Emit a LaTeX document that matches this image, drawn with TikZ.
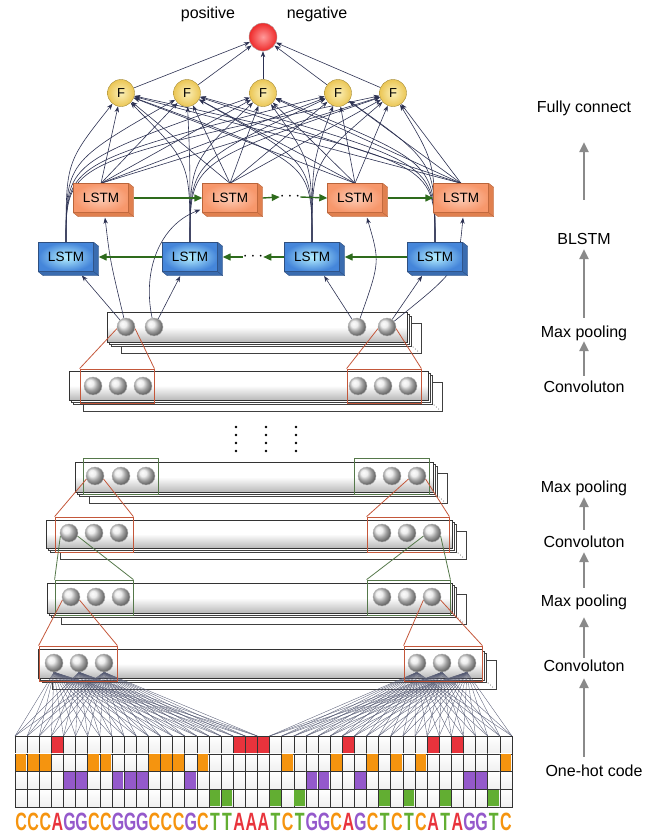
\documentclass[tikz,border=0pt]{standalone}
\usepackage{graphicx}
\usepackage{fontspec}
\setmainfont{Liberation Sans}
\usetikzlibrary{arrows.meta}
\pgfdeclarelayer{bg}
\pgfsetlayers{bg,main}

\definecolor{navy}{HTML}{2C3152}
\definecolor{gridgray}{HTML}{565B74}
\definecolor{rnngreen}{HTML}{2E6B1C}
\definecolor{rfred}{HTML}{C4573A}
\definecolor{rfgreen}{HTML}{55784A}
\definecolor{nucA}{HTML}{E8333C}
\definecolor{nucC}{HTML}{F5940F}
\definecolor{nucG}{HTML}{9459CB}
\definecolor{nucT}{HTML}{62AE32}
\definecolor{fwfill}{HTML}{F7976B}
\definecolor{fwlight}{HTML}{FCCDB8}
\definecolor{fwedge}{HTML}{B9643A}
\definecolor{fwside}{HTML}{E0804F}
\definecolor{bwfill}{HTML}{4586DA}
\definecolor{bwlight}{HTML}{B5F0FF}
\definecolor{bwedge}{HTML}{2E4F80}
\definecolor{bwside}{HTML}{3A6CB0}
\definecolor{fyellow}{HTML}{EBC655}
\definecolor{flight}{HTML}{FBF0B8}
\definecolor{fedge}{HTML}{A38A35}
\definecolor{outred}{HTML}{EE2A2A}
\definecolor{outlight}{HTML}{FF9A9A}
\definecolor{labgray}{HTML}{8A8A8A}

% one stack of feature maps: x, y, width, height of the front bar
\newcommand\fmap[4]{%
  \filldraw[fmback] (#1+14,#2+11) rectangle ++(#3,#4);
  \foreach \k in {1,2,3} \fill[black!70] (#1+#3+4+\k*2.2,#2+#4+3+\k*2) circle (0.5);
  \filldraw[fmback] (#1+4,#2+4) rectangle ++(#3,#4);
  \filldraw[fmback] (#1+2,#2+2) rectangle ++(#3,#4);
  \shadedraw[fmfront] (#1,#2) rectangle ++(#3,#4);
}

\def\rowA{736}
\def\rowC{753.75}
\def\rowG{771.5}
\def\rowT{789.25}

\begin{document}
\begin{tikzpicture}[x=1pt,y=-1pt,
  lab/.style={font=\fontsize{16}{18}\selectfont, text height=12pt, text depth=4pt, inner sep=0pt},
  upar/.style={draw=labgray, line width=2.6pt, -{Triangle[length=10pt,width=9pt]}},
  conn/.style={draw=navy, line width=0.6pt, -{Stealth[length=6pt,width=4.5pt]}},
  rnn/.style={draw=rnngreen, line width=1.4pt, -{Triangle[length=8pt,width=7pt]}},
  fwd/.style={draw=fwedge, inner color=fwlight, outer color=fwfill, minimum width=55pt, minimum height=29pt, inner sep=0pt, font=\fontsize{13.5}{13.5}\selectfont},
  bwd/.style={draw=bwedge, inner color=bwlight, outer color=bwfill, minimum width=55pt, minimum height=29pt, inner sep=0pt, font=\fontsize{13.5}{13.5}\selectfont},
  fwface/.style={fill=fwside, draw=fwedge, line join=round},
  bwface/.style={fill=bwside, draw=bwedge, line join=round},
  fnode/.style={circle, draw=fedge, inner color=flight, outer color=fyellow, minimum size=27pt, inner sep=0pt, font=\fontsize{13}{13}\selectfont},
  outnode/.style={circle, draw=gray!70, inner color=outlight, outer color=outred, minimum size=28pt, inner sep=0pt},
  dotsnode/.style={inner sep=0pt, minimum width=20pt, font=\fontsize{18}{18}\selectfont},
  unit/.style={circle, draw=gray!60, ball color=gray!18, minimum size=18pt, inner sep=0pt},
  fmfront/.style={draw=gray!40!black, line width=0.6pt, top color=white, bottom color=gray!55, middle color=white},
  fmback/.style={draw=gray!50!black, line width=0.5pt, fill=white},
  redfield/.style={draw=rfred, line width=0.8pt, inner sep=0pt},
  greenfield/.style={draw=rfgreen, line width=0.8pt, inner sep=0pt},
  cell/.style={draw=gray!40!black, line width=0.5pt, top color=white, bottom color=gray!12},
  nuctext/.style={font=\fontsize{25}{25}\selectfont\bfseries, inner sep=0pt},
  gridln/.style={draw=gridgray, line width=0.35pt}
]
\useasboundingbox (0,0) rectangle (646,835);

% layer names on the right
\node[lab] (fc) at (584,108) {Fully connect};
\node[lab] (bl) at (584,240) {BLSTM};
\node[lab] (mp1) at (584,333) {Max pooling};
\node[lab] (cv1) at (584,388) {Convoluton};
\node[lab] (mp2) at (584,488) {Max pooling};
\node[lab] (cv2) at (584,543) {Convoluton};
\node[lab] (mp3) at (584,602) {Max pooling};
\node[lab] (cv3) at (584,667) {Convoluton};
\node[lab] (oh) at (594,772) {One-hot code};
\draw[upar, shorten <=32pt, shorten >=26pt] (bl) -- (fc);
\draw[upar, shorten <=7pt, shorten >=1pt] (mp1.north) -- (bl.south);
\draw[upar, shorten <=4pt, shorten >=0pt] (cv1.north) -- (mp1.south);
\draw[upar, shorten <=5pt, shorten >=1pt] (cv2.north) -- (mp2.south);
\draw[upar, shorten <=6pt, shorten >=1pt] (mp3.north) -- (cv2.south);
\draw[upar, shorten <=1pt, shorten >=7pt] (cv3.north) -- (mp3.south);
\draw[upar, shorten <=7pt, shorten >=3pt] (oh.north -| cv3) -- (cv3.south);

% one-hot grid and sequence
\foreach \l [count=\i] in {C,C,C,A,G,G,C,C,G,G,G,C,C,C,G,C,T,T,A,A,A,T,C,T,G,G,C,A,G,C,T,C,T,C,A,T,A,G,G,T,C} {
  \pgfmathsetmacro\xc{15+12.12*(\i-1)}
  \foreach \r in {0,...,3} \filldraw[cell] (\xc,736+17.75*\r) rectangle ++(12.12,17.75);
  \fill[nuc\l] (\xc+0.7,\csname row\l\endcsname+0.7) rectangle ++(10.72,16.35);
  \node[nuctext, text=nuc\l] (s\i) at (\xc+6.06,822) {\scalebox{0.64}[1]{\l}};
}
\foreach \j in {0,...,41} \coordinate (g\j) at (15+12.12*\j,736);

% feature maps
\begin{pgfonlayer}{bg}
\fmap{107}{312}{300}{30}
\fmap{69}{371}{359}{29}
\fmap{75}{462}{358}{30}
\fmap{46}{520}{406}{28}
\fmap{47}{583}{405}{30}
\fmap{38}{649}{444}{29}
\end{pgfonlayer}

\foreach \n/\x in {1/126,2/154,3/357,4/387} \node[unit] (lf\n) at (\x,327) {};
\foreach \n/\x in {1/93,2/118,3/143,4/358,5/383,6/408} \node[unit] (le\n) at (\x,386) {};
\foreach \n/\x in {1/95,2/121,3/146,4/367,5/392,6/417} \node[unit] (ld\n) at (\x,476) {};
\foreach \n/\x in {1/69,2/94,3/119,4/382,5/407,6/432} \node[unit] (lc\n) at (\x,533) {};
\foreach \n/\x in {1/71,2/96,3/121,4/382,5/407,6/432} \node[unit] (lb\n) at (\x,597) {};
\foreach \n/\x in {1/54,2/79,3/104,4/417,5/442,6/467} \node[unit] (la\n) at (\x,663) {};

% receptive fields
\node[redfield, minimum width=74pt, minimum height=34pt] (rfe1) at (117,386) {};
\node[redfield, minimum width=74pt, minimum height=34pt] (rfe2) at (384,386) {};
\node[greenfield, minimum width=75pt, minimum height=36pt] (rfd1) at (120.5,476) {};
\node[greenfield, minimum width=75pt, minimum height=36pt] (rfd2) at (391.5,476) {};
\node[redfield, minimum width=78pt, minimum height=35pt] (rfc1) at (94,534.5) {};
\node[redfield, minimum width=82pt, minimum height=35pt] (rfc2) at (408,534.5) {};
\node[greenfield, minimum width=78pt, minimum height=35pt] (rfb1) at (94,597.5) {};
\node[greenfield, minimum width=83pt, minimum height=35pt] (rfb2) at (408.5,597.5) {};
\node[redfield, minimum width=78pt, minimum height=35pt] (rfa1) at (78,663.5) {};
\node[redfield, minimum width=78pt, minimum height=35pt] (rfa2) at (443,663.5) {};
\draw[redfield] (rfe1.north west) -- (lf1.190) (rfe1.north east) -- (lf1.-10);
\draw[redfield] (rfe2.north west) -- (lf4.190) (rfe2.north east) -- (lf4.-10);
\draw[redfield] (rfc1.north west) -- (ld1.200) (rfc1.north east) -- (ld1.-20);
\draw[redfield] (rfc2.north west) -- (ld6.200) (rfc2.north east) -- (ld6.-20);
\draw[greenfield] (rfb1.north west) -- (lc1.200) (rfb1.north east) -- (lc1.-20);
\draw[greenfield] (rfb2.north west) -- (lc6.200) (rfb2.north east) -- (lc6.-20);
\draw[redfield] (rfa1.north west) -- (lb1.200) (rfa1.north east) -- (lb1.-20);
\draw[redfield] (rfa2.north west) -- (lb6.200) (rfa2.north east) -- (lb6.-20);

\foreach \x in {236,266,296} \foreach \y in {427,435,443,451} \fill (\x,\y) circle (1.3);

% BLSTM and output
\node[lab] (pos) at (208,14) {positive};
\node[lab] (neg) at (317,14) {negative};
\node[outnode] (out) at (263,37) {};
\foreach \n/\x in {1/121,2/187,3/263,4/338,5/393} \node[fnode] (f\n) at (\x,93) {F};
\foreach \n/\x in {1/101,2/230,3/355,4/461} \node[fwd] (fw\n) at (\x,198) {LSTM};
\foreach \n/\x in {1/66,2/190,3/312,4/435} \node[bwd] (bw\n) at (\x,257) {LSTM};
\foreach \n in {1,...,4} {
  \filldraw[fwface] (fw\n.north east) -- ([shift={(5,4)}]fw\n.north east) -- ([shift={(5,4)}]fw\n.south east) -- ([shift={(5,4)}]fw\n.south west) -- (fw\n.south west) -- (fw\n.south east) -- cycle;
  \draw[fwface] (fw\n.south east) -- ([shift={(5,4)}]fw\n.south east);
  \filldraw[bwface] (bw\n.north east) -- ([shift={(5,4)}]bw\n.north east) -- ([shift={(5,4)}]bw\n.south east) -- ([shift={(5,4)}]bw\n.south west) -- (bw\n.south west) -- (bw\n.south east) -- cycle;
  \draw[bwface] (bw\n.south east) -- ([shift={(5,4)}]bw\n.south east);
}
\node[dotsnode] (dfw) at (290,197) {$\cdots$};
\node[dotsnode] (dbw) at (253,257) {$\cdots$};
\draw[rnn] ([xshift=5pt]fw1.east) -- (fw2.west);
\draw[rnn] ([xshift=5pt]fw2.east) -- (dfw.west);
\draw[rnn] (dfw.east) -- (fw3.west);
\draw[rnn] ([xshift=5pt]fw3.east) -- (fw4.west);
\draw[rnn] (bw4.west) -- ([xshift=5pt]bw3.east);
\draw[rnn] (bw3.west) -- (dbw.east);
\draw[rnn] (dbw.west) -- ([xshift=5pt]bw2.east);
\draw[rnn] (bw2.west) -- ([xshift=5pt]bw1.east);

\begin{pgfonlayer}{bg}
\foreach \n in {1,...,5} \draw[conn] (f\n) -- (out);
\foreach \s in {1,...,4} \foreach \t in {1,...,5} {
  \draw[conn] (fw\s.north) -- (f\t);
  \draw[conn] (bw\s.north) .. controls ([yshift=80pt]bw\s.north) .. (f\t);
}
\draw[conn, shorten >=5pt] (lf1) -- (bw1);
\draw[conn] (lf1) .. controls (110,260) .. ([shift={(4,5)}]fw1.south);
\draw[conn, shorten >=5pt] (lf2) -- (bw2);
\draw[conn] (lf2) .. controls (142,270) and (160,225) .. ([shift={(-2,-3)}]fw2.south west);
\draw[conn, shorten >=5pt] (lf3) -- (bw3);
\draw[conn] (lf3) .. controls (380,262) .. ([shift={(12,5)}]fw3.south);
\draw[conn, shorten >=5pt] (lf4) -- (bw4);
\draw[conn] (lf4) .. controls (458,270) .. ([shift={(2,5)}]fw4.south);
\foreach \i in {1,2,3} \foreach \j in {0,...,20} \draw[gridln] (la\i.south) -- (g\j);
\foreach \i in {4,5,6} \foreach \j in {21,...,41} \draw[gridln] (la\i.south) -- (g\j);
\end{pgfonlayer}
\end{tikzpicture}
\end{document}
